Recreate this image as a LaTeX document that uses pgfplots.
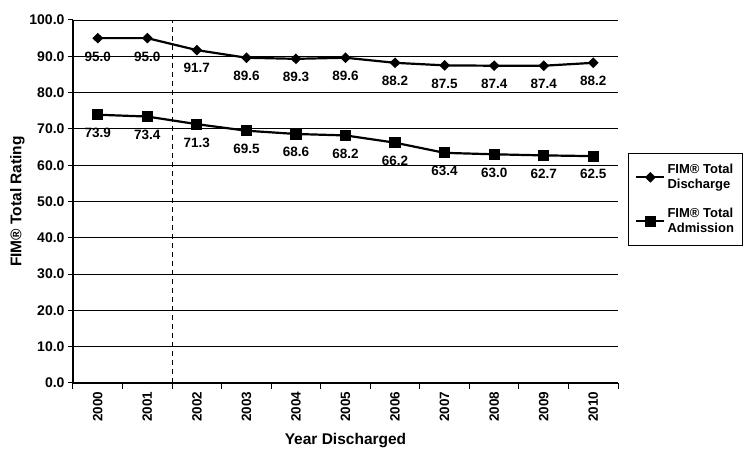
\documentclass[border=0pt]{standalone}
\usepackage{pgfplots}
\pgfplotsset{compat=1.18}
\usepackage{fontspec}
\setmainfont{Liberation Sans}

\begin{document}
\begin{tikzpicture}
\begin{axis}[
  at={(0,0)}, anchor=south west,
  scale only axis,
  width=545pt, height=363pt,
  axis lines*=left,
  axis line style={line width=1.2pt},
  xmin=-0.5, xmax=10.5,
  ymin=0, ymax=100,
  xtick={0,...,10},
  xticklabels={2000,2001,2002,2003,2004,2005,2006,2007,2008,2009,2010},
  minor xtick={-0.5,0.5,...,10.5},
  x tick label style={rotate=90, anchor=east, font=\bfseries\fontsize{13.5}{14}\selectfont},
  major x tick style={draw=none},
  minor tick length=6pt,
  ytick={0,10,...,100},
  y tick label style={font=\bfseries\fontsize{14}{15}\selectfont},
  yticklabel style={/pgf/number format/.cd, fixed, zerofill, precision=1, assume math mode=true},
  xticklabel style={/pgf/number format/assume math mode=true},
  major tick length=5pt,
  tick align=outside,
  tick style={black, line width=1pt},
  ymajorgrids,
  grid style={black, line width=0.9pt},
  xlabel={\bfseries Year Discharged},
  ylabel={\bfseries FIM\textregistered{} Total Rating},
  label style={font=\bfseries\fontsize{15.5}{16}\selectfont},
  xlabel style={yshift=-5pt},
  ylabel style={yshift=-2pt},
  nodes near coords,
  every node near coord/.append style={anchor=north, yshift=-9pt, black,
    font=\bfseries\fontsize{13.5}{14}\selectfont,
    /pgf/number format/.cd, fixed, zerofill, precision=1, assume math mode=true},
  legend style={at={(rel axis cs:1.018,0.634)}, anchor=north west,
    draw=black, line width=1pt, font=\bfseries\fontsize{13}{15}\selectfont,
    cells={align=left}, inner xsep=7pt, inner ysep=9pt, row sep=14pt},
  legend cell align=left,
  legend image code/.code={\draw[mark repeat=2, mark phase=2, line width=2.2pt]
    plot coordinates {(0pt,0pt)(14pt,0pt)(28pt,0pt)};},
  clip=false,
]
\addplot[black, line width=1.1pt, dash pattern=on 5pt off 4pt, mark=none, forget plot, nodes near coords={}]
  coordinates {(1.5,0)(1.5,100)};
\addplot[black, line width=2.2pt, mark=diamond*, mark size=3.8pt, mark options={solid, xscale=1.35}]
  coordinates {(0,95.0)(1,95.0)(2,91.7)(3,89.6)(4,89.3)(5,89.6)(6,88.2)(7,87.5)(8,87.4)(9,87.4)(10,88.2)};
\addlegendentry{FIM\textregistered{} Total\\Discharge}
\addplot[black, line width=2.2pt, mark=square*, mark size=4.5pt, mark options={solid}]
  coordinates {(0,73.9)(1,73.4)(2,71.3)(3,69.5)(4,68.6)(5,68.2)(6,66.2)(7,63.4)(8,63.0)(9,62.7)(10,62.5)};
\addlegendentry{FIM\textregistered{} Total\\Admission}
\end{axis}
\pgfresetboundingbox
\path[use as bounding box] (-73pt,-71pt) rectangle (677pt,383pt);
\end{tikzpicture}
\end{document}
